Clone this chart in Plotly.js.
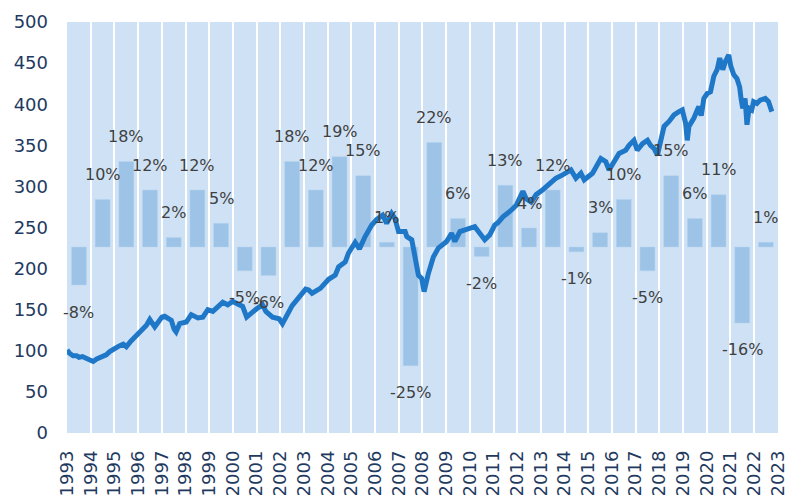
<!DOCTYPE html>
<html>
<head>
<meta charset="utf-8">
<script src="https://cdn.plot.ly/plotly-3.0.1.min.js"></script>
<style>html,body{margin:0;padding:0;background:#fff;}#chart{width:789px;height:495px;}</style>
</head>
<body>
<div id="chart"></div>
<script>
// Year columns (bars) and axis tick labels
const barYears = [1993,1994,1995,1996,1997,1998,1999,2000,2001,2002,2003,2004,2005,2006,2007,2008,2009,2010,2011,2012,2013,2014,2015,2016,2017,2018,2019,2020,2021,2022];
const pctChange = [-8,10,18,12,2,12,5,-5,-6,18,12,19,15,1,-25,22,6,-2,13,4,12,-1,3,10,-5,15,6,11,-16,1];
const tickYears = [1993,1994,1995,1996,1997,1998,1999,2000,2001,2002,2003,2004,2005,2006,2007,2008,2009,2010,2011,2012,2013,2014,2015,2016,2017,2018,2019,2020,2021,2022,2023];
const tickLabels = tickYears.map(String);

// Index line
const lineX = [1993.00,1993.10,1993.25,1993.40,1993.50,1993.65,1993.80,1994.00,1994.10,1994.25,1994.46,1994.65,1994.80,1995.00,1995.20,1995.37,1995.50,1995.70,1995.93,1996.20,1996.35,1996.49,1996.60,1996.70,1996.85,1997.00,1997.12,1997.25,1997.40,1997.52,1997.60,1997.75,1998.03,1998.24,1998.52,1998.73,1998.94,1999.15,1999.36,1999.57,1999.78,1999.99,2000.20,2000.41,2000.58,2000.83,2001.04,2001.25,2001.39,2001.67,2001.95,2002.09,2002.30,2002.50,2002.70,2002.90,2003.07,2003.20,2003.34,2003.69,2004.04,2004.32,2004.46,2004.74,2004.88,2005.16,2005.34,2005.58,2005.86,2006.07,2006.32,2006.49,2006.70,2006.84,2006.99,2007.27,2007.34,2007.55,2007.69,2007.83,2007.97,2008.07,2008.25,2008.46,2008.67,2008.88,2009.02,2009.23,2009.37,2009.58,2009.79,2009.93,2010.21,2010.42,2010.63,2010.84,2011.05,2011.19,2011.40,2011.75,2011.96,2012.24,2012.38,2012.59,2012.80,2013.08,2013.36,2013.64,2013.92,2014.06,2014.27,2014.48,2014.69,2014.83,2015.04,2015.18,2015.53,2015.74,2015.88,2016.09,2016.30,2016.58,2016.72,2016.93,2017.07,2017.29,2017.50,2017.63,2017.78,2017.92,2018.03,2018.20,2018.41,2018.62,2018.83,2018.97,2019.11,2019.18,2019.25,2019.46,2019.60,2019.67,2019.77,2019.88,2020.02,2020.16,2020.30,2020.44,2020.55,2020.68,2020.79,2020.93,2021.02,2021.14,2021.28,2021.39,2021.45,2021.52,2021.62,2021.70,2021.79,2021.90,2021.98,2022.12,2022.26,2022.47,2022.61,2022.75];
const lineY = [101,97,94,94,92,93,91,89,87,90,93,95,99,103,106,108,105,112,119,127,131,138,134,129,135,141,142,139,137,126,123,133,135,144,140,141,150,148,154,159,156,160,157,154,141,148,152,156,148,141,139,133,145,155,162,170,175,174,170,176,187,192,202,208,219,232,224,239,253,260,265,255,267,261,245,245,239,235,214,192,188,172,194,214,225,229,233,243,233,245,247,249,251,243,235,241,253,256,263,271,277,294,285,281,290,296,304,310,314,316,320,310,316,308,314,316,334,330,320,330,340,344,350,356,344,352,356,350,346,338,354,373,379,387,391,393,377,356,373,383,393,397,386,407,413,415,434,442,456,442,452,460,446,436,431,421,407,395,407,375,395,393,403,401,405,407,403,391];

const fontFam = '"DejaVu Sans", "Liberation Sans", sans-serif';

const traces = [
  {
    type: 'bar',
    x: barYears.map(y => y + 0.5),
    y: pctChange,
    width: 0.63,
    marker: {color: '#9dc3e6', line: {color: '#b4d2ee', width: 0.5}},
    yaxis: 'y',
    hoverinfo: 'skip'
  },
  {
    type: 'scatter',
    mode: 'lines',
    x: lineX,
    y: lineY,
    yaxis: 'y2',
    line: {color: '#1f77c8', width: 5, shape: 'linear'},
    hoverinfo: 'skip'
  }
];

const annotations = barYears.map((yr, i) => ({
  x: yr + 0.5,
  y: pctChange[i],
  xref: 'x',
  yref: 'y',
  text: pctChange[i] + '%',
  showarrow: false,
  yshift: pctChange[i] >= 0 ? 25 : -27,
  font: {family: fontFam, size: 16, color: '#404040'}
}));

const layout = {
  width: 789,
  height: 495,
  margin: {l: 67, r: 11, t: 22, b: 62},
  paper_bgcolor: '#ffffff',
  plot_bgcolor: '#cfe2f5',
  showlegend: false,
  xaxis: {
    range: [1992.995, 2023.01],
    tickmode: 'array',
    tickvals: tickYears,
    ticktext: tickLabels,
    tickangle: -90,
    showgrid: true,
    gridcolor: '#ffffff',
    gridwidth: 2,
    zeroline: false,
    showline: false,
    ticks: '',
    ticklabelstandoff: 13,
    ticklabeloverflow: 'allow',
    tickfont: {family: fontFam, size: 18, color: '#1f3a5f'},
    fixedrange: true
  },
  yaxis: {
    range: [-39.16, 47.37],
    visible: false,
    showgrid: false,
    zeroline: false,
    fixedrange: true
  },
  yaxis2: {
    overlaying: 'y',
    side: 'left',
    range: [0, 500],
    tickmode: 'linear',
    tick0: 0,
    dtick: 50,
    showgrid: false,
    zeroline: false,
    showline: false,
    ticks: '',
    ticklabelstandoff: 18,
    tickfont: {family: fontFam, size: 18, color: '#1f3a5f'},
    fixedrange: true
  },
  annotations: annotations
};

Plotly.newPlot('chart', traces, layout, {displayModeBar: false, staticPlot: true});
</script>
</body>
</html>
